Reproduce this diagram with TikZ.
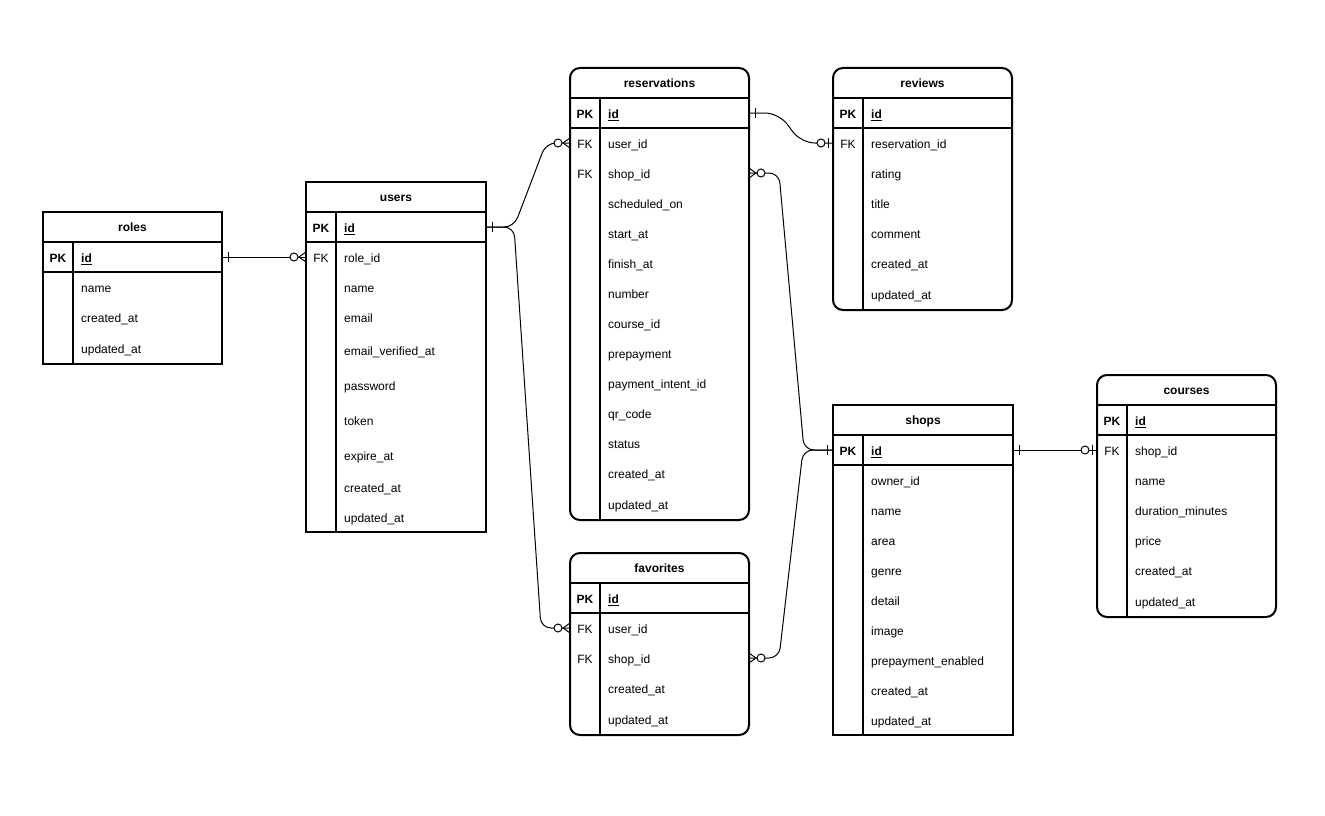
\documentclass[tikz,border=0pt]{standalone}
\usepackage{fontspec}
\setmainfont{Liberation Sans}
\usetikzlibrary{calc}

\tikzset{
  tbl/.style={draw, line width=2pt, inner sep=0pt, outer sep=0pt, anchor=north west},
  tblr/.style={tbl, rounded corners=10pt},
  sep/.style={line width=2pt},
  rowcell/.style={anchor=west, minimum height=30pt, inner sep=0pt, outer sep=0pt},
  keytxt/.style={anchor=mid, inner sep=0pt, font=\fontsize{12pt}{14pt}\selectfont},
  fieldtxt/.style={anchor=mid west, inner sep=0pt, font=\fontsize{12pt}{14pt}\selectfont},
  titletxt/.style={anchor=mid, inner sep=0pt, font=\fontsize{12pt}{14pt}\selectfont\bfseries},
  conn/.style={line width=1pt, black},
}

% table frame: name, x, y, width, height, title, frame style
\newcommand\ertable[7]{%
  \node[#7, minimum width=#4pt, minimum height=#5pt] (#1) at (#2,#3) {};
  \node[titletxt] (#1-title) at ($(#1.north)+(0,17)$) {#6};
  \draw[sep] ($(#1.north west)+(0,30)$) -- ($(#1.north east)+(0,30)$);
  \draw[sep] ($(#1.north west)+(0,60)$) -- ($(#1.north east)+(0,60)$);
  \draw[sep] ($(#1.north west)+(30,30)$) -- ($(#1.south west)+(30,0)$);
}
% table row: name, table x, y, width, key text, field text
\newcommand\errow[6]{%
  \node[rowcell, minimum width=#4pt] (#1) at (#2,#3) {};
  \node[keytxt] (#1-key) at ($(#1.west)+(15,3)$) {#5};
  \node[fieldtxt] (#1-field) at ($(#1.west)+(38,3)$) {#6};
}
% relationship end markers: anchor, direction away from the table (1 or -1)
\newcommand\mone[2]{\draw[conn] ($(#1)+(#2*6,-5)$) -- ($(#1)+(#2*6,5)$);}
\newcommand\mzmany[2]{%
  \draw[conn] ($(#1)+(0,-5)$) -- ($(#1)+(#2*7,0)$) -- ($(#1)+(0,5)$);
  \draw[conn, fill=white] ($(#1)+(#2*12,0)$) circle[radius=4pt];}
\newcommand\mzone[2]{%
  \draw[conn] ($(#1)+(#2*5,-5)$) -- ($(#1)+(#2*5,5)$);
  \draw[conn, fill=white] ($(#1)+(#2*12,0)$) circle[radius=4pt];}
\newcommand\pkid{\textbf{\underline{id}}}

\begin{document}
\begin{tikzpicture}[x=1pt, y=-1pt]
\useasboundingbox (0,0) rectangle (1325,816);
\fill[white] (0,0) rectangle (1325,816);

% roles
\ertable{roles}{43}{212}{179}{152}{roles}{tbl}
\errow{ro-id}{43}{257}{179}{\textbf{PK}}{\pkid}
\errow{ro-name}{43}{287}{179}{}{name}
\errow{ro-created}{43}{317}{179}{}{created\_at}
\errow{ro-updated}{43}{348}{179}{}{updated\_at}

% users
\ertable{users}{306}{182}{180}{350}{users}{tbl}
\errow{u-id}{306}{227}{180}{\textbf{PK}}{\pkid}
\errow{u-role}{306}{257}{180}{FK}{role\_id}
\errow{u-name}{306}{287}{180}{}{name}
\errow{u-email}{306}{317}{180}{}{email}
\errow{u-verified}{306}{350}{180}{}{email\_verified\_at}
\errow{u-password}{306}{385}{180}{}{password}
\errow{u-token}{306}{420}{180}{}{token}
\errow{u-expire}{306}{455}{180}{}{expire\_at}
\errow{u-created}{306}{487}{180}{}{created\_at}
\errow{u-updated}{306}{517}{180}{}{updated\_at}

% reservations
\ertable{reservations}{570}{68}{179}{452}{reservations}{tblr}
\errow{r-id}{570}{113}{179}{\textbf{PK}}{\pkid}
\errow{r-user}{570}{143}{179}{FK}{user\_id}
\errow{r-shop}{570}{173}{179}{FK}{shop\_id}
\errow{r-sched}{570}{203}{179}{}{scheduled\_on}
\errow{r-start}{570}{233}{179}{}{start\_at}
\errow{r-finish}{570}{263}{179}{}{finish\_at}
\errow{r-number}{570}{293}{179}{}{number}
\errow{r-course}{570}{323}{179}{}{course\_id}
\errow{r-prepay}{570}{353}{179}{}{prepayment}
\errow{r-intent}{570}{383}{179}{}{payment\_intent\_id}
\errow{r-qr}{570}{413}{179}{}{qr\_code}
\errow{r-status}{570}{443}{179}{}{status}
\errow{r-created}{570}{473}{179}{}{created\_at}
\errow{r-updated}{570}{504}{179}{}{updated\_at}

% reviews
\ertable{reviews}{833}{68}{179}{242}{reviews}{tblr}
\errow{v-id}{833}{113}{179}{\textbf{PK}}{\pkid}
\errow{v-res}{833}{143}{179}{FK}{reservation\_id}
\errow{v-rating}{833}{173}{179}{}{rating}
\errow{v-title}{833}{203}{179}{}{title}
\errow{v-comment}{833}{233}{179}{}{comment}
\errow{v-created}{833}{263}{179}{}{created\_at}
\errow{v-updated}{833}{294}{179}{}{updated\_at}

% shops
\ertable{shops}{833}{405}{180}{330}{shops}{tbl}
\errow{s-id}{833}{450}{180}{\textbf{PK}}{\pkid}
\errow{s-owner}{833}{480}{180}{}{owner\_id}
\errow{s-name}{833}{510}{180}{}{name}
\errow{s-area}{833}{540}{180}{}{area}
\errow{s-genre}{833}{570}{180}{}{genre}
\errow{s-detail}{833}{600}{180}{}{detail}
\errow{s-image}{833}{630}{180}{}{image}
\errow{s-prepay}{833}{660}{180}{}{prepayment\_enabled}
\errow{s-created}{833}{690}{180}{}{created\_at}
\errow{s-updated}{833}{720}{180}{}{updated\_at}

% courses
\ertable{courses}{1097}{375}{179}{242}{courses}{tblr}
\errow{c-id}{1097}{420}{179}{\textbf{PK}}{\pkid}
\errow{c-shop}{1097}{450}{179}{FK}{shop\_id}
\errow{c-name}{1097}{480}{179}{}{name}
\errow{c-duration}{1097}{510}{179}{}{duration\_minutes}
\errow{c-price}{1097}{540}{179}{}{price}
\errow{c-created}{1097}{570}{179}{}{created\_at}
\errow{c-updated}{1097}{601}{179}{}{updated\_at}

% favorites
\ertable{favorites}{570}{553}{179}{182}{favorites}{tblr}
\errow{f-id}{570}{598}{179}{\textbf{PK}}{\pkid}
\errow{f-user}{570}{628}{179}{FK}{user\_id}
\errow{f-shop}{570}{658}{179}{FK}{shop\_id}
\errow{f-created}{570}{688}{179}{}{created\_at}
\errow{f-updated}{570}{719}{179}{}{updated\_at}

% relationships
\draw[conn] (ro-id.east) -- (u-role.west);
\draw[conn, rounded corners=10pt] (u-id.east) -- ++(28,0) -- ($(r-user.west)+(-24,0)$) -- (r-user.west);
\draw[conn, rounded corners=10pt] (u-id.east) -- ++(28,0) -- ($(f-user.west)+(-29,0)$) -- (f-user.west);
\draw[conn, rounded corners=14pt] (r-id.east) -- ++(30,0) -- ($(v-res.west)+(-32,0)$) -- (v-res.west);
\draw[conn, rounded corners=10pt] (r-shop.east) -- ++(30,0) -- ($(s-id.west)+(-29,0)$) -- (s-id.west);
\draw[conn, rounded corners=10pt] (f-shop.east) -- ++(30,0) -- ($(s-id.west)+(-30,0)$) -- (s-id.west);
\draw[conn] (s-id.east) -- (c-shop.west);

% relationship ends
\mone{ro-id.east}{1}
\mzmany{u-role.west}{-1}
\mone{u-id.east}{1}
\mzmany{r-user.west}{-1}
\mzmany{f-user.west}{-1}
\mone{r-id.east}{1}
\mzone{v-res.west}{-1}
\mzmany{r-shop.east}{1}
\mzmany{f-shop.east}{1}
\mone{s-id.west}{-1}
\mone{s-id.east}{1}
\mzone{c-shop.west}{-1}
\end{tikzpicture}
\end{document}
